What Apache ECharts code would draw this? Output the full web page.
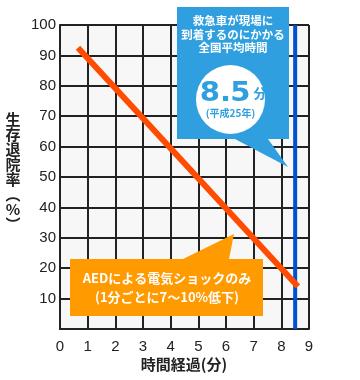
<!DOCTYPE html>
<html><head><meta charset="utf-8">
<script src="https://cdn.jsdelivr.net/npm/echarts@6/dist/echarts.min.js"></script>
<style>html,body{margin:0;padding:0;background:#fff}#c{width:360px;height:380px}</style>
</head><body><div id="c"></div>
<script>
// data
const xTicks = [0,1,2,3,4,5,6,7,8,9];
const yTicks = [10,20,30,40,50,60,70,80,90,100];
const aedLineX = [0.65, 8.6];
const aedLineY = [92.5, 14];
const ambulanceTime = 8.5;
const xTitle = '時間経過(分)';
const yTitle = '生存退院率(%)';
const blueText = ['救急車が現場に','到着するのにかかる','全国平均時間'];
const orangeText = ['AEDによる電気ショックのみ','(1分ごとに7〜10%低下)'];

const JP = '"Noto Sans CJK JP","Noto Sans",sans-serif';
const DIG = '"DejaVu Sans","Liberation Sans",Arial,sans-serif';
const chart = echarts.init(document.getElementById('c'), null, {renderer:'canvas'});
function glyph(t, cx, cy){
  return {type:'text',z:102,x:cx,y:cy,scaleX:1.12,
    style:{text:t,x:0,y:0,align:'center',verticalAlign:'bottom',font:'bold 26px '+DIG,fill:'#2f9fe0'}};
}
const option = {
  animation:false,
  grid:{left:60,right:51,top:25,bottom:51,show:true,backgroundColor:'#f7f7f7',borderWidth:0},
  xAxis:{type:'value',min:0,max:9,interval:1,
    axisLine:{show:true,lineStyle:{color:'#222',width:2}},
    axisTick:{show:false},
    splitLine:{show:true,lineStyle:{color:'#222',width:2}},
    axisLabel:{color:'#222',fontSize:15,fontFamily:'"Liberation Sans",Arial,sans-serif',margin:10,
      formatter:v=>xTicks.includes(v)?String(v):''}},
  yAxis:{type:'value',min:0,max:100,interval:10,
    axisLine:{show:true,lineStyle:{color:'#222',width:2}},
    axisTick:{show:false},
    splitLine:{show:true,lineStyle:{color:'#222',width:2}},
    axisLabel:{color:'#222',fontSize:15,fontFamily:'"Liberation Sans",Arial,sans-serif',margin:4,
      formatter:v=>yTicks.includes(v)?String(v):''}},
  series:[
    {type:'line',data:[[ambulanceTime,0],[ambulanceTime,100]],symbol:'none',
      lineStyle:{color:'#0050d2',width:4},z:3},
    {type:'line',data:aedLineX.map((x,i)=>[x,aedLineY[i]]),symbol:'none',
      lineStyle:{color:'#ff4c00',width:6,cap:'butt'},z:4}
  ],
  graphic:[
    // blue callout
    {type:'polygon',z:100,shape:{points:[[177,7],[289,7],[289,139],[268,139],[288,167],[235,139],[177,139]]},
      style:{fill:'#2f9fe0'}},
    {type:'text',z:101,style:{text:blueText.join('\n'),x:233,y:14,align:'center',
      font:'bold 11.5px '+JP,fill:'#fff',lineHeight:13.5}},
    {type:'circle',z:101,shape:{cx:230.5,cy:99.5,r:34.5},style:{fill:'#fff'}},
    {type:'group',z:102,x:0,y:0,children:[
      glyph('8',210,107), glyph('.',225.5,107), glyph('5',240.5,107)
    ]},
    {type:'text',z:102,style:{text:'分',x:260,y:93,align:'center',verticalAlign:'middle',
      font:'bold 13px '+JP,fill:'#2f9fe0'}},
    {type:'text',z:102,style:{text:'(平成25年)',x:230.5,y:113,align:'center',verticalAlign:'middle',
      font:'bold 10px '+JP,fill:'#2f9fe0'}},
    // orange callout
    {type:'polygon',z:100,shape:{points:[[70,259],[183,259],[234,234],[229,259],[263,259],[263,316],[70,316]]},
      style:{fill:'#ff9a00'}},
    {type:'text',z:101,style:{text:orangeText.join('\n'),x:167,y:287.5,align:'center',verticalAlign:'middle',
      font:'bold 13px '+JP,fill:'#fff',lineHeight:19}},
    // axis titles
    {type:'text',z:50,style:{text:xTitle,x:184,y:364,align:'center',verticalAlign:'middle',
      font:'bold 15px '+JP,fill:'#222'}},
    {type:'text',z:50,style:{text:'生\n存\n退\n院\n率\n︵\n%\n︶',x:13,y:172,align:'center',verticalAlign:'middle',
      font:'bold 15px '+JP,fill:'#222',lineHeight:15}}
  ]
};
chart.setOption(option);
</script></body></html>
